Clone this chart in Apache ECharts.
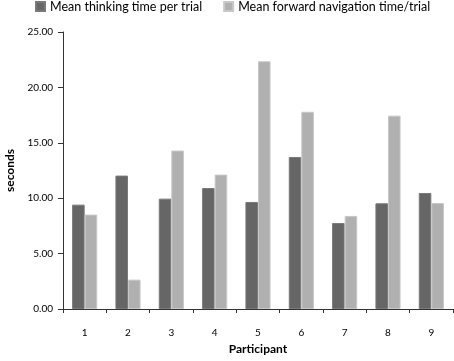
<!DOCTYPE html>
<html>
<head>
<meta charset="utf-8">
<script src="https://cdn.jsdelivr.net/npm/echarts@6/dist/echarts.min.js"></script>
<style>
  html, body { margin: 0; padding: 0; background: #fff; }
  #chart { width: 454px; height: 361px; }
</style>
</head>
<body>
<div id="chart"></div>
<script>
// participants on the x axis
var participants = ['1', '2', '3', '4', '5', '6', '7', '8', '9'];
// mean thinking time per trial (seconds)
var thinkingTime = [9.42, 12.04, 9.96, 10.92, 9.66, 13.72, 7.76, 9.54, 10.47];
// mean forward navigation time per trial (seconds)
var navigationTime = [8.52, 2.65, 14.30, 12.13, 22.36, 17.80, 8.40, 17.45, 9.57];
var seriesNames = ['Mean thinking time per trial', 'Mean forward navigation time/trial'];

var font = 'Lato, "Open Sans", sans-serif';
var chart = echarts.init(document.getElementById('chart'));

chart.setOption({
    animation: false,
    textStyle: { fontFamily: font },
    legend: {
        top: -5,
        left: 30,
        width: 450,
        orient: 'horizontal',
        itemWidth: 9,
        itemHeight: 9,
        itemGap: 21,
        icon: 'rect',
        textStyle: { fontSize: 12.5, color: '#000', fontFamily: font },
        data: seriesNames
    },
    grid: {
        left: 63,
        right: 1,
        top: 32,
        bottom: 52,
        outerBoundsMode: 'none'
    },
    xAxis: {
        type: 'category',
        data: participants,
        name: 'Participant',
        nameLocation: 'middle',
        nameGap: 30,
        nameTextStyle: { fontSize: 12, fontWeight: 'bold', color: '#000', fontFamily: font },
        axisLine: { lineStyle: { color: '#333', width: 1 } },
        axisTick: { show: true, alignWithLabel: false, length: 4, lineStyle: { color: '#333' } },
        axisLabel: { fontSize: 10, color: '#000', margin: 19, fontFamily: font }
    },
    yAxis: {
        type: 'value',
        min: 0,
        max: 25,
        interval: 5,
        name: 'seconds',
        nameLocation: 'middle',
        nameRotate: 90,
        nameGap: 47,
        nameTextStyle: { fontSize: 12, fontWeight: 'bold', color: '#000', fontFamily: font },
        axisLine: { show: true, lineStyle: { color: '#333', width: 1 } },
        axisTick: { show: true, length: 5, lineStyle: { color: '#333' } },
        splitLine: { show: false },
        axisLabel: {
            fontSize: 10,
            color: '#000',
            margin: 10,
            fontFamily: font,
            formatter: function (v) { return v.toFixed(2); }
        }
    },
    series: [{
        name: seriesNames[0],
        type: 'bar',
        data: thinkingTime,
        barGap: '0%',
        barCategoryGap: '42%',
        itemStyle: { color: '#666666', borderColor: '#7a7a7a', borderWidth: 1 }
    }, {
        name: seriesNames[1],
        type: 'bar',
        data: navigationTime,
        itemStyle: { color: '#b0b0b0', borderColor: '#c8c8c8', borderWidth: 1 }
    }]
});
</script>
</body>
</html>
